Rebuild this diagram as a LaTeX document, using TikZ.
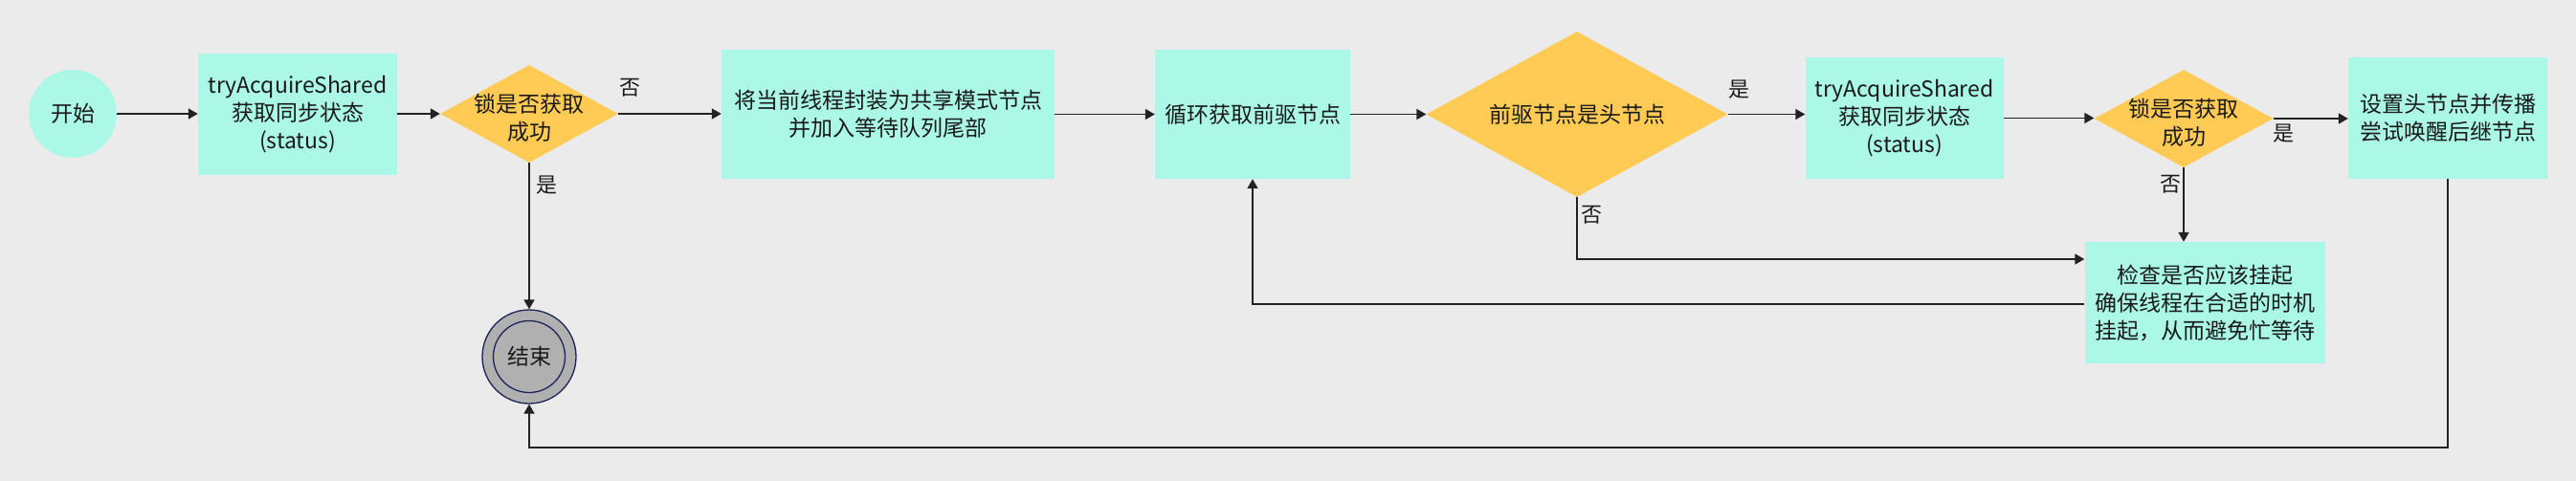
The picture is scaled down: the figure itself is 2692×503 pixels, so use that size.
\documentclass[tikz,border=0pt]{standalone}
\usepackage{fontspec}
\setmainfont{Noto Sans CJK SC}
\usetikzlibrary{arrows.meta,shapes.geometric}
\definecolor{bg}{HTML}{EBEBEB}
\definecolor{boxc}{HTML}{ABF8E6}
\definecolor{dia}{HTML}{FFCB55}
\definecolor{ln}{HTML}{222222}
\definecolor{txt}{HTML}{1A1A1A}
\definecolor{endf}{HTML}{B0B0B0}
\definecolor{endl}{HTML}{1C2456}
\begin{document}
\begin{tikzpicture}[x=1pt,y=-1pt,
  font=\fontsize{23}{29}\selectfont, text=txt,
  proc/.style={rectangle, fill=boxc, draw=none, align=center, inner sep=0pt},
  dec/.style={diamond, fill=dia, draw=none, inner sep=0pt},
  dtext/.style={align=center, inner sep=0pt},
  lab/.style={inner sep=0pt, font=\fontsize{22}{26}\selectfont},
  arr/.style={draw=ln, line width=1.7pt, -{Triangle[length=10pt,width=11pt]}},
  conn/.style={draw=ln, line width=1.7pt}
]
\fill[bg] (0,0) rectangle (2692,503);
\useasboundingbox (0,0) rectangle (2692,503);

\node[circle, fill=boxc, minimum size=92pt, inner sep=0pt] (start) at (76,119) {开始};
\node[proc, minimum width=208pt, minimum height=127pt] (b1) at (311,119.5) {tryAcquireShared\\获取同步状态\\(status)};
\node[dec, minimum width=186pt, minimum height=102pt] (d1) at (553,119) {};
\node[dtext] (d1t) at (553,123) {锁是否获取\\成功};
\node[proc, minimum width=348pt, minimum height=135pt] (b2) at (928,119.5) {将当前线程封装为共享模式节点\\并加入等待队列尾部};
\node[proc, minimum width=204pt, minimum height=135pt] (b3) at (1309,119.5) {循环获取前驱节点};
\node[dec, minimum width=315pt, minimum height=173pt] (d2) at (1648,119.5) {};
\node[dtext] (d2t) at (1648,119.5) {前驱节点是头节点};
\node[proc, minimum width=207pt, minimum height=127pt] (b4) at (1990,123.5) {tryAcquireShared\\获取同步状态\\(status)};
\node[dec, minimum width=187pt, minimum height=102pt] (d3) at (2282,124) {};
\node[dtext] (d3t) at (2282,128) {锁是否获取\\成功};
\node[proc, minimum width=208pt, minimum height=127pt] (b5) at (2558,123.5) {设置头节点并传播\\尝试唤醒后继节点};
\node[proc, minimum width=251pt, minimum height=127pt] (b6) at (2304,316.5) {检查是否应该挂起\\确保线程在合适的时机\\挂起，从而避免忙等待};
\node[circle, fill=endf, draw=endl, line width=1.3pt, minimum size=98pt, inner sep=0pt] (end) at (553,373) {结束};
\draw[endl, line width=1.3pt] (end.center) circle (37.5);

\coordinate (bot) at (2558,468);

\draw[arr] (start.east) -- (start.east -| b1.west);
\draw[arr] (b1.east |- d1.west) -- (d1.west);
\draw[arr] (d1.east) -- (d1.east -| b2.west) node[lab, pos=0, xshift=12pt, yshift=27pt] {否};
\draw[arr] (d1.south) -- (end.north) node[lab, pos=0, xshift=18pt, yshift=-23pt] {是};
\draw[arr] (b2.east) -- (b2.east -| b3.west);
\draw[arr] (b3.east) -- (b3.east -| d2.west);
\draw[arr] (d2.east) -- (d2.east -| b4.west) node[lab, pos=0, xshift=12pt, yshift=26pt] {是};
\draw[arr] (b4.east) -- (b4.east -| d3.west);
\draw[arr] (d3.east) -- (d3.east -| b5.west) node[lab, pos=0, xshift=11pt, yshift=-16pt] {是};
\draw[arr] (d3.south) -- (d3.south |- b6.north) node[lab, pos=0, xshift=-14pt, yshift=-18pt] {否};
\draw[arr] (d2.south) |- ([yshift=45.5pt]b6.west) node[lab, pos=0, xshift=15pt, yshift=-19pt] {否};
\draw[arr] ([yshift=-1.5pt]b6.west) -| (b3.south);
\draw[arr] (b5.south) -- (bot) -| (end.south);
\end{tikzpicture}
\end{document}
